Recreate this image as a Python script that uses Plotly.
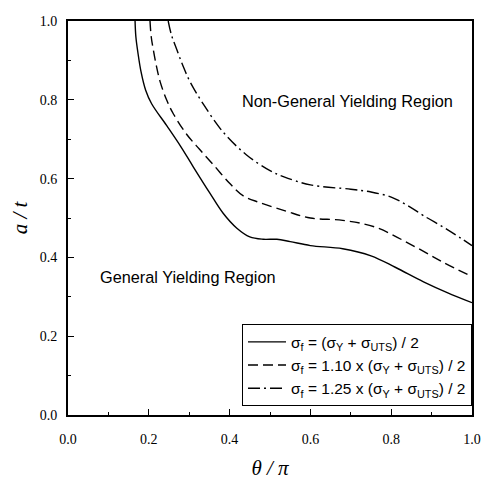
import plotly.graph_objects as go

# theta/pi and a/t
x_solid = [0.166, 0.168, 0.173, 0.181, 0.192, 0.207, 0.244, 0.280, 0.310, 0.350, 0.384, 0.418, 0.450, 0.483, 0.517, 0.550, 0.600, 0.680, 0.750, 0.810, 0.880, 0.940, 1.000]
y_solid = [1.000, 0.960, 0.920, 0.870, 0.825, 0.790, 0.735, 0.680, 0.630, 0.565, 0.512, 0.474, 0.452, 0.446, 0.446, 0.440, 0.430, 0.422, 0.404, 0.375, 0.338, 0.310, 0.285]

x_dash = [0.203, 0.206, 0.211, 0.219, 0.228, 0.244, 0.261, 0.294, 0.325, 0.360, 0.400, 0.434, 0.475, 0.541, 0.600, 0.680, 0.760, 0.850, 0.930, 1.000]
y_dash = [1.000, 0.960, 0.928, 0.885, 0.846, 0.800, 0.764, 0.712, 0.675, 0.635, 0.588, 0.556, 0.539, 0.517, 0.500, 0.494, 0.477, 0.432, 0.387, 0.351]

x_dashdot = [0.248, 0.256, 0.269, 0.285, 0.302, 0.335, 0.384, 0.442, 0.500, 0.533, 0.600, 0.700, 0.750, 0.800, 0.840, 0.880, 0.940, 1.000]
y_dashdot = [1.000, 0.965, 0.928, 0.885, 0.846, 0.789, 0.718, 0.660, 0.620, 0.605, 0.584, 0.573, 0.566, 0.553, 0.532, 0.506, 0.470, 0.430]

names = [
    "σ<sub>f</sub> = (σ<sub>Y</sub> + σ<sub>UTS</sub>) / 2",
    "σ<sub>f</sub> = 1.10 x (σ<sub>Y</sub> + σ<sub>UTS</sub>) / 2",
    "σ<sub>f</sub> = 1.25 x (σ<sub>Y</sub> + σ<sub>UTS</sub>) / 2",
]

fig = go.Figure()
fig.add_trace(go.Scatter(x=x_solid, y=y_solid, mode="lines", name=names[0],
                         line=dict(color="black", width=1.4, shape="spline", dash="solid")))
fig.add_trace(go.Scatter(x=x_dash, y=y_dash, mode="lines", name=names[1],
                         line=dict(color="black", width=1.4, shape="spline", dash="10px,5px")))
fig.add_trace(go.Scatter(x=x_dashdot, y=y_dashdot, mode="lines", name=names[2],
                         line=dict(color="black", width=1.4, shape="spline", dash="12px,4px,2px,4px")))

tickfont = dict(family="Liberation Serif", size=14, color="black")
axis_common = dict(
    showline=True, linewidth=2, linecolor="black", mirror=True,
    ticks="inside", ticklen=6, tickwidth=1, tickcolor="black",
    showgrid=False, zeroline=False, tickfont=tickfont,
    minor=dict(ticks="inside", ticklen=3, tickwidth=1, tickcolor="black", dtick=0.1),
)
title_font = dict(family="Liberation Serif", size=21, color="black")

fig.update_xaxes(range=[0, 1.0], dtick=0.2, tickformat=".1f", ticklabelstandoff=10,
                 title=dict(text="<i>θ / π</i>", font=title_font, standoff=15),
                 **axis_common)
fig.update_yaxes(range=[0, 1.0], dtick=0.2, tickformat=".1f", ticklabelstandoff=6,
                 title=dict(text="<i>a / t</i>", font=title_font, standoff=8),
                 **axis_common)

fig.add_annotation(x=0.692, y=0.796, text="Non-General Yielding Region", showarrow=False,
                   font=dict(family="Liberation Sans", size=16.3, color="black"))
fig.add_annotation(x=0.297, y=0.349, text="General Yielding Region", showarrow=False,
                   font=dict(family="Liberation Sans", size=16.3, color="black"))

fig.update_layout(
    width=485, height=474,
    margin=dict(l=60, r=21, t=6, b=61),
    plot_bgcolor="white", paper_bgcolor="white",
    legend=dict(x=1.0, y=0.022, xanchor="right", yanchor="bottom",
                bordercolor="black", borderwidth=1, bgcolor="white",
                font=dict(family="Liberation Sans", size=15.5, color="black"),
                itemwidth=38, tracegroupgap=0),
    showlegend=True,
)

fig.write_html("out.html")
